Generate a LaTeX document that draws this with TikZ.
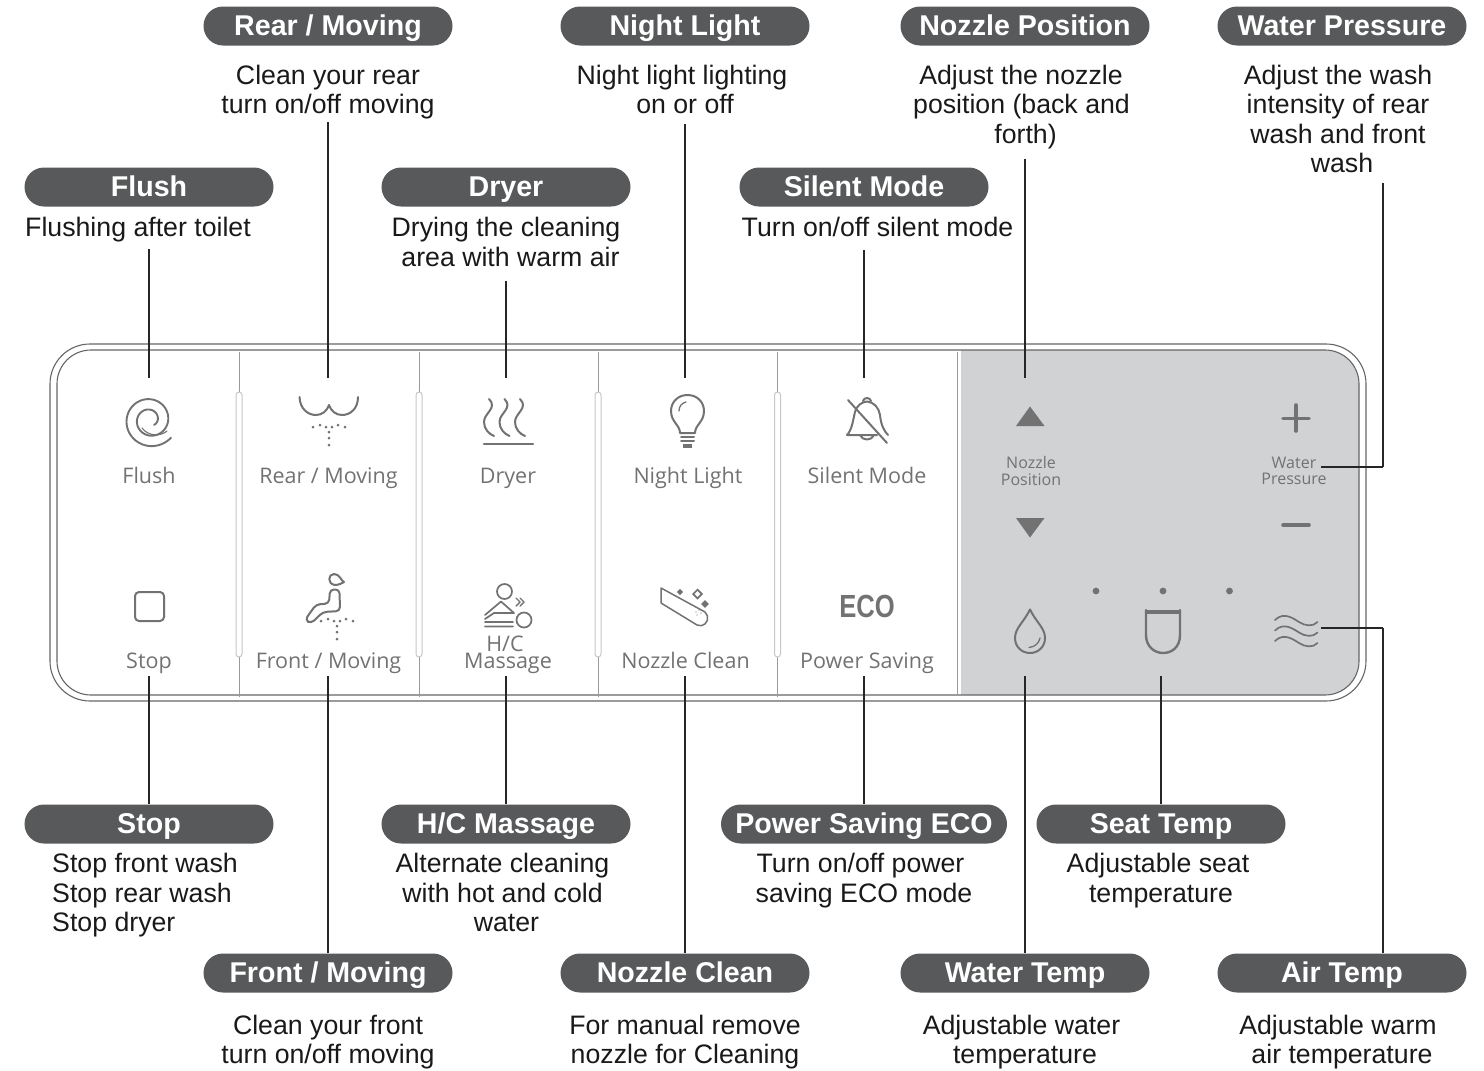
\documentclass[tikz,border=0pt]{standalone}
\usepackage{fontspec}
\setmainfont{Liberation Sans}
\newfontfamily\panelfont{Open Sans}
\usetikzlibrary{positioning}
\definecolor{pillgray}{HTML}{58595B}
\definecolor{icongray}{HTML}{727272}
\definecolor{panelgray}{HTML}{D1D2D4}
\tikzset{
	pill/.style = {fill=pillgray, text=white, rounded corners=19.5pt, minimum width=249pt, minimum height=39pt, inner sep=0pt, text height=21pt, text depth=3pt, font=\fontsize{28.6}{30}\selectfont\bfseries},
	desc/.style = {align=center, inner sep=0pt, text=black!90, font=\fontsize{26.7}{29.4}\selectfont},
	paneltext/.style = {anchor=base, inner sep=0pt, text depth=8pt, text=icongray, font=\panelfont\fontsize{21.5}{24}\selectfont},
	smalltext/.style = {align=center, inner sep=0pt, text=icongray, font=\panelfont\fontsize{16}{16.5}\selectfont},
	leader/.style = {draw=black!85, line width=1.2pt},
	icon/.style = {draw=icongray, line width=2pt, line cap=round, line join=round},
	rim/.style = {draw=black!60, line width=1.1pt, rounded corners=#1},
	divider/.style = {draw=black!40, line width=1pt},
	capsule/.style = {draw=black!22, fill=white, line width=1pt, rounded corners=3pt},
	dot/.style = {fill=icongray, draw=none},
	spray/.pic = {
		\foreach \dx/\dy in {-16/1,-9/-1,-3/1,3/1,9/-1,16/1,0/6,0/12,0/19}
			\fill [dot] (\dx,\dy) circle (1.5pt);
	}
}
\begin{document}
\begin{tikzpicture}[x=1pt,y=-1pt]
	\useasboundingbox (0,0) rectangle (1484,1071);
	\fill [panelgray, rounded corners=0pt] (961,695) -- (961,350) [rounded corners=34pt] -- (1359,350) -- (1359,695) [rounded corners=0pt] -- cycle;
	\draw [rim=40pt] (50,344) rectangle (1366,701);
	\draw [rim=34pt] (57,350) rectangle (1359,695);
	\draw [divider] (957,352) -- (957,695);
	\foreach \x in {239,419,598,777.5} {
		\draw [divider] (\x,352) -- (\x,697);
		\draw [capsule] (\x-3,392) rectangle (\x+3,657);
	}

	\node (flushpill) [pill] at (149,187) {Flush};
	\node (rearpill) [pill] at (328,26) {Rear / Moving};
	\node (dryerpill) [pill] at (506,187) {Dryer};
	\node (nightpill) [pill] at (685,26) {Night Light};
	\node (silentpill) [pill] at (864,187) {Silent Mode};
	\node (nozpospill) [pill] at (1025,26) {Nozzle Position};
	\node (wppill) [pill] at (1342,26) {Water Pressure};
	\node (stoppill) [pill] at (149,824) {Stop};
	\node (frontpill) [pill] at (328,973) {Front / Moving};
	\node (hcpill) [pill] at (506,824) {H/C Massage};
	\node (cleanpill) [pill] at (685,973) {Nozzle Clean};
	\node (ecopill) [pill, minimum width=286pt] at (864,824) {Power Saving ECO};
	\node (seatpill) [pill] at (1161,824) {Seat Temp};
	\node (watertpill) [pill] at (1025,973) {Water Temp};
	\node (airpill) [pill] at (1342,973) {Air Temp};

	\node (flushtext) [desc, below = 10.5pt of flushpill, xshift=-11pt] {Flushing after toilet};
	\node (reartext) [desc, below = 19pt of rearpill] {Clean your rear\\turn on/off moving};
	\node (dryertext) [desc, below = 10.5pt of dryerpill] {Drying the cleaning\\\hspace*{9pt}area with warm air};
	\node (nighttext) [desc, below = 19pt of nightpill, xshift=-3pt] {Night light lighting\\\hspace*{6pt}on or off};
	\node (silenttext) [desc, below = 10.5pt of silentpill, xshift=13.5pt] {Turn on/off silent mode};
	\node (nozpostext) [desc, below = 19pt of nozpospill, xshift=-4pt] {Adjust the nozzle\\\hspace*{1pt}position (back and\\\hspace*{9pt}forth)};
	\node (wptext) [desc, below = 19pt of wppill, xshift=-4pt] {Adjust the wash\\intensity of rear\\wash and front\\\hspace*{8pt}wash};
	\node (stoptext) [desc, below = 9.5pt of stoppill, align=left, xshift=-4pt] {Stop front wash\\Stop rear wash\\Stop dryer};
	\node (fronttext) [desc, below = 22pt of frontpill] {Clean your front\\turn on/off moving};
	\node (hctext) [desc, below = 9.5pt of hcpill, xshift=-3.5pt] {Alternate cleaning\\with hot and cold\\\hspace*{8pt}water};
	\node (cleantext) [desc, below = 22pt of cleanpill] {For manual remove\\nozzle for Cleaning};
	\node (ecotext) [desc, below = 9.5pt of ecopill] {\hspace*{-7pt}Turn on/off power\\saving ECO mode};
	\node (seattext) [desc, below = 9.5pt of seatpill, xshift=-3pt] {Adjustable seat\\\hspace*{6pt}temperature};
	\node (watertext) [desc, below = 22pt of watertpill, xshift=-3.5pt] {Adjustable water\\\hspace*{7pt}temperature};
	\node (airtext) [desc, below = 22pt of airpill, xshift=-4pt] {Adjustable warm\\\hspace*{8pt}air temperature};

	\node (flushlabel) [paneltext] at (149,483) {Flush};
	\node (rearlabel) [paneltext] at (328.5,483) {Rear / Moving};
	\node (dryerlabel) [paneltext] at (508,483) {Dryer};
	\node (nightlabel) [paneltext] at (688,483) {Night Light};
	\node (silentlabel) [paneltext] at (867,483) {Silent Mode};
	\node (stoplabel) [paneltext] at (149,668) {Stop};
	\node (frontlabel) [paneltext] at (328.5,668) {Front / Moving};
	\node (hclabel) [paneltext] at (508,668) {Massage};
	\node (hcupper) [paneltext, text depth=0pt] at (505,651) {H/C};
	\node (cleanlabel) [paneltext] at (685.5,668) {Nozzle Clean};
	\node (ecolabel) [paneltext] at (867,668) {Power Saving};
	\node (nozposlabel) [smalltext] at (1031,471) {Nozzle\\Position};
	\node (wplabel) [smalltext] at (1294,471) {Water\\Pressure};
	\node (ecomark) [text=icongray, inner sep=0pt, xscale=.8, font=\fontsize{32}{34}\selectfont\bfseries] at (867,606) {ECO};

	\coordinate (flushtop) at (149,378);
	\coordinate (reartop) at (328,378);
	\coordinate (dryertop) at (506,378);
	\coordinate (nighttop) at (685,378);
	\coordinate (silenttop) at (864,378);
	\coordinate (nozpostop) at (1025,378);
	\coordinate (wpend) at (1321,467);
	\coordinate (wpturn) at (1383,467);
	\coordinate (airend) at (1321,628);
	\coordinate (airturn) at (1383,628);
	\coordinate (dropend) at (1025,676);
	\coordinate (seatend) at (1161,676);

	\path [leader]
	(flushtop |- flushtext.south) edge[shorten <=7pt] (flushtop)
	(reartop |- reartext.south) edge[shorten <=3pt] (reartop)
	(dryertop |- dryertext.south) edge[shorten <=14pt] (dryertop)
	(nighttop |- nighttext.south) edge[shorten <=10pt] (nighttop)
	(silenttop |- silenttext.south) edge[shorten <=13pt] (silenttop)
	(nozpostop |- nozpostext.south) edge[shorten <=10pt] (nozpostop)
	(wpturn |- wptext.south) edge[shorten <=10pt] (wpturn)
	(wpend) edge (wpturn)
	(stoppill.north) edge (stoppill.north |- stoplabel.south)
	(frontpill.north) edge (frontpill.north |- frontlabel.south)
	(hcpill.north) edge (hcpill.north |- hclabel.south)
	(cleanpill.north) edge (cleanpill.north |- cleanlabel.south)
	(ecopill.north) edge (ecopill.north |- ecolabel.south)
	(watertpill.north) edge (dropend)
	(seatpill.north) edge (seatend)
	(airend) edge (airturn)
	(airturn) edge (airturn |- airpill.north);

	\draw [icon, line width=1.9pt] plot[domain=40:770, samples=120, smooth] ({150+(27.5-0.029*(\x-40))*cos(\x)},{420+(27.5-0.029*(\x-40))*sin(\x)});
	\draw [icon, line width=1.1pt] (142,428) .. controls (148,436) and (160,437) .. (167,431);

	\draw [icon] (299.5,397) .. controls (300,409) and (308,415) .. (316,415) .. controls (322,415) and (327,411) .. (329,405) .. controls (331,411) and (336,415) .. (342,415) .. controls (350,415) and (358,409) .. (358,397);
	\pic at (329,426) {spray};

	\draw [icon, rounded corners=4pt] (135,592) rectangle (164,621);

	\draw [icon] (334,574) .. controls (328,574) and (327,584) .. (335,585) .. controls (339,585) and (342,583) .. (344,582) .. controls (341,581) and (340,574) .. (334,574);
	\draw [icon, rounded corners=4pt] (330,589.5) -- (339.5,589.5) -- (340,611) -- (323,612) -- (311,623.5) -- (305,620) -- (316,604.5) -- (329,603.5) -- cycle;
	\pic at (337,620) {spray};

	\foreach \dx in {0,15.5,31}
		\draw [icon] (489+\dx,399) .. controls (498+\dx,408) and (484+\dx,413) .. (484+\dx,422) .. controls (484+\dx,429) and (489+\dx,434) .. (494+\dx,436);
	\draw [icon, line width=2.6pt] (484,444) -- (533,444);

	\draw [icon] (680,433) .. controls (680,425) and (671,422) .. (671,411) .. controls (671,402) and (678,395) .. (687.5,395) .. controls (697,395) and (704,402) .. (704,411) .. controls (704,422) and (695,425) .. (695,433) -- cycle;
	\draw [icon, line width=1.3pt] (679,411) .. controls (679,406) and (682,403) .. (686,402);
	\draw [icon] (681,437) -- (694,437) (681,441) -- (694,441);
	\fill [icongray] (683,444) rectangle (692,447.5);

	\draw [icon] (847,435) .. controls (852,430) and (853,420) .. (855,412) .. controls (857,405) and (862,402) .. (867,401.5) .. controls (874,402) and (879,408) .. (880,415) .. controls (881,425) and (884,431) .. (888,435);
	\draw [icon] (863,401) .. controls (864,397) and (870,397) .. (871,401);
	\draw [icon] (847,435) -- (877,435) (860,435) .. controls (862,441) and (872,441) .. (874,435);
	\draw [icon] (848,400) -- (887,443);

	\draw [icon, line width=1.7pt] (504.5,591.5) circle (7.5pt) (524,620) circle (7.5pt);
	\draw [icon, line width=1.7pt] (485,622) -- (513,622) (485,626.5) -- (513,626.5) (485,615) -- (501,601.5) -- (514,613) -- (494,613) -- (485,619);
	\draw [icon, line width=1.4pt] (516,598) -- (520,602) -- (516,606) (520,598) -- (524,602) -- (520,606);

	\draw [icon, line width=1.5pt] (661,588) -- (661,603) -- (697,625) .. controls (703,628) and (709,622) .. (707.5,616) -- (705,612) -- cycle;
	\foreach \sx/\sy/\sr in {680/592/3.2,697.5/594/5.5,705/604/3.8}
		\fill [icongray] (\sx-\sr,\sy) -- (\sx,\sy-\sr) -- (\sx+\sr,\sy) -- (\sx,\sy+\sr) -- cycle;
	\foreach \sx/\sy/\sr in {697.5/594/2.8}
		\fill [white] (\sx-\sr,\sy) -- (\sx,\sy-\sr) -- (\sx+\sr,\sy) -- (\sx,\sy+\sr) -- cycle;
	\foreach \sx/\sy in {696/612,699/610,697/615,701/613}
		\fill [dot] (\sx,\sy) circle (.6pt);

	\fill [icongray] (1016,426) -- (1044.5,426) -- (1030,406.5) -- cycle;
	\fill [icongray] (1016,518) -- (1044.5,518) -- (1030,537.5) -- cycle;
	\draw [icon, line width=3.6pt] (1283,418.5) -- (1309,418.5) (1296,405) -- (1296,431) (1283,525) -- (1309,525);
	\foreach \x in {1096,1163,1229.5}
		\fill [dot] (\x,591) circle (3.4pt);

	\draw [icon] (1030,609.5) .. controls (1024,622) and (1015,628) .. (1015,638) .. controls (1015,647) and (1022,653) .. (1030,653) .. controls (1038,653) and (1045,647) .. (1045,638) .. controls (1045,628) and (1036,622) .. (1030,609.5);
	\draw [icon, line width=1.3pt] (1040,638) .. controls (1039,643) and (1035,647) .. (1029,647.5);

	\draw [icon, line width=2.4pt] (1146,610) -- (1146,635) .. controls (1146,647) and (1155,653) .. (1163,653) .. controls (1172,653) and (1180,647) .. (1180,635) -- (1180,610);
	\draw [icon, line width=3.4pt, line cap=butt] (1145,612) -- (1181,612);

	\foreach \dy in {0,10.5,21}
		\draw [icon, line width=1.7pt] (1275,620+\dy) .. controls (1284,611+\dy) and (1294,619+\dy) .. (1299,622+\dy) .. controls (1305,626+\dy) and (1313,627+\dy) .. (1317.5,622+\dy);
\end{tikzpicture}
\end{document}
